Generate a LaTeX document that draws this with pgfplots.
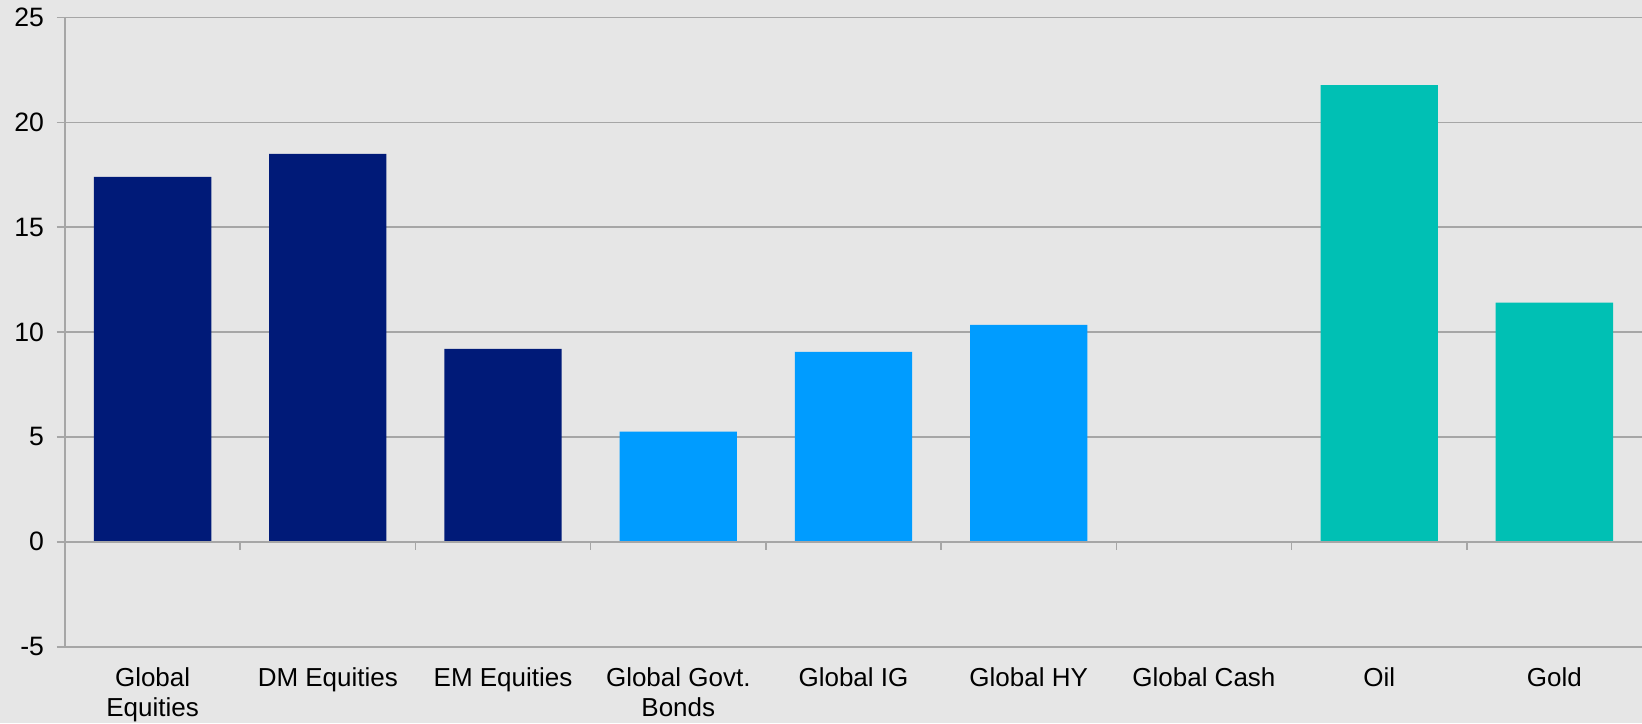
\documentclass[border=0pt]{standalone}
\usepackage{pgfplots}
\pgfplotsset{compat=1.18}
\usepackage{fontspec}
\setmainfont{Liberation Sans}
\definecolor{bg}{HTML}{E6E6E6}
\definecolor{gridc}{HTML}{A6A6A6}
\definecolor{navy}{HTML}{001A78}
\definecolor{sky}{HTML}{009CFF}
\definecolor{teal2}{HTML}{00C0B4}
\begin{document}
\begin{tikzpicture}
\fill[bg] (0,0) rectangle (821pt,361.5pt);
\path[use as bounding box] (0,0) rectangle (821pt,361.5pt);
\begin{axis}[
  at={(32.5pt,38.15pt)}, anchor=south west,
  scale only axis, width=788.5pt, height=314.6pt,
  xmin=-0.5, xmax=8.5, ymin=-5, ymax=25,
  axis x line*=bottom, axis y line*=left,
  axis line style={draw=gridc, line width=0.8pt},
  x axis line style={-, draw=gridc},
  y axis line style={-, draw=gridc},
  ytick={-5,0,5,10,15,20,25},
  yticklabels={-5,0,5,10,15,20,25},
  xtick={0,...,8},
  xticklabels={{Global\\Equities},{DM Equities},{EM Equities},{Global Govt.\\Bonds},{Global IG},{Global HY},{Global Cash},{Oil},{Gold}},
  x tick label style={align=center, font=\fontsize{13}{15}\selectfont, text depth=0pt, yshift=-3pt},
  y tick label style={font=\fontsize{13.3}{15}\selectfont, xshift=-3pt},
  ymajorgrids, grid style={draw=gridc, line width=0.8pt},
  tick align=outside, major tick length=4pt,
  xtick style={draw=none},
  ytick style={draw=gridc, line width=0.8pt},
  ybar, bar width=58.65pt,
  clip=false,
]
\addplot[fill=navy, draw=none, bar shift=0pt] coordinates {(0,17.4) (1,18.5) (2,9.2)};
\addplot[fill=sky, draw=none, bar shift=0pt] coordinates {(3,5.26) (4,9.06) (5,10.35) (6,0)};
\addplot[fill=teal2, draw=none, bar shift=0pt] coordinates {(7,21.78) (8,11.4)};
\draw[gridc, line width=0.8pt] (axis cs:-0.5,0) -- (axis cs:8.5,0);
\pgfplotsinvokeforeach{0.5,1.5,2.5,3.5,4.5,5.5,6.5,7.5}{\draw[gridc, line width=0.8pt] (axis cs:#1,0) -- ++(0pt,-4pt);}
\end{axis}
\end{tikzpicture}
\end{document}
